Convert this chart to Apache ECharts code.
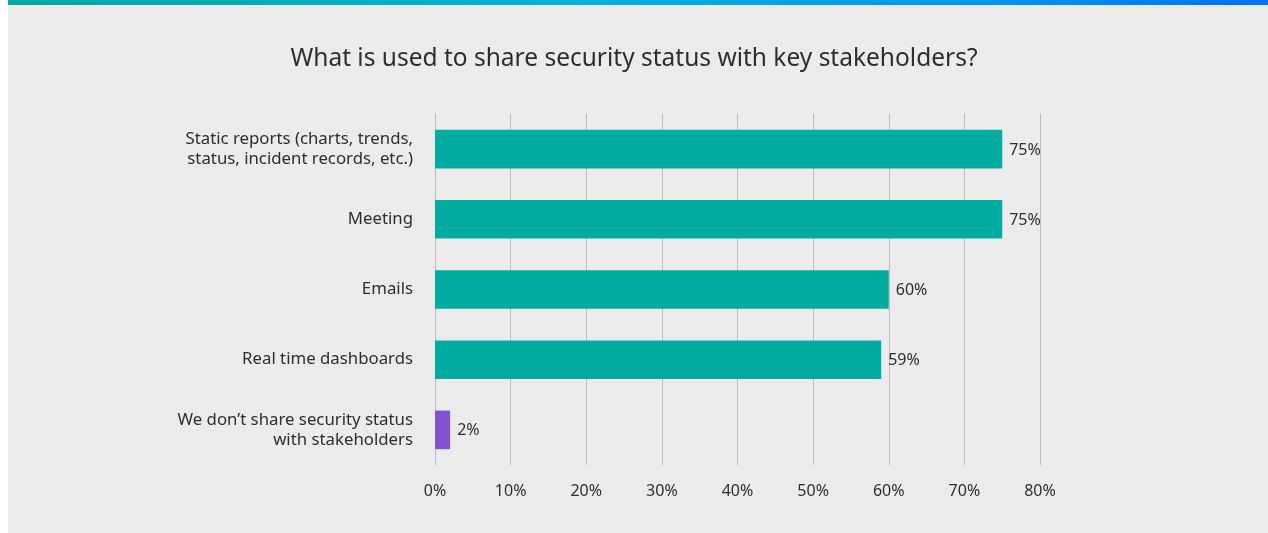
<!DOCTYPE html>
<html>
<head>
<meta charset="utf-8">
<script src="https://cdn.jsdelivr.net/npm/echarts@6/dist/echarts.min.js"></script>
<style>
  html, body { margin: 0; padding: 0; background: #ffffff; }
  #chart { width: 1268px; height: 533px; }
</style>
</head>
<body>
<div id="chart"></div>
<script>
// Share channels, listed top to bottom as drawn
const categories = [
  'Static reports (charts, trends,\nstatus, incident records, etc.)',
  'Meeting',
  'Emails',
  'Real time dashboards',
  'We don\u2019t share security status\nwith stakeholders'
];
const shares = [75, 75, 60, 59, 2];
const barColors = ['#00ab9f', '#00ab9f', '#00ab9f', '#00ab9f', '#8551d3'];
const tickValues = [0, 10, 20, 30, 40, 50, 60, 70, 80];

const FONT = '"Noto Sans", "Open Sans", sans-serif';
const chart = echarts.init(document.getElementById('chart'), null, { renderer: 'canvas' });

chart.setOption({
  backgroundColor: '#ffffff',
  animation: false,
  graphic: [
    {
      type: 'rect', left: 8, top: 0, z: -10,
      shape: { width: 1260, height: 533 },
      style: { fill: '#ebebeb' }
    },
    {
      type: 'rect', left: 8, top: 0, z: -5,
      shape: { width: 1260, height: 5 },
      style: {
        fill: new echarts.graphic.LinearGradient(0, 0, 1, 0, [
          { offset: 0, color: '#00a99d' },
          { offset: 0.45, color: '#00b2dc' },
          { offset: 0.78, color: '#0096ef' },
          { offset: 1, color: '#0070f5' }
        ])
      }
    }
  ],
  title: {
    text: 'What is used to share security status with key stakeholders?',
    left: 'center',
    top: 42,
    textStyle: { fontFamily: FONT, fontSize: 24.5, fontWeight: 'normal', color: '#2e2e2e' }
  },
  grid: { left: 435, right: 228, top: 114, height: 351, containLabel: false },
  xAxis: {
    type: 'value',
    min: tickValues[0],
    max: tickValues[tickValues.length - 1],
    interval: 10,
    axisLine: { show: false },
    axisTick: { show: false },
    splitLine: { show: true, lineStyle: { color: '#bcbcbc', width: 1 } },
    axisLabel: {
      formatter: '{value}%',
      margin: 18,
      fontFamily: FONT, fontSize: 16, color: '#2e2e2e'
    }
  },
  yAxis: {
    type: 'category',
    inverse: true,
    data: categories,
    axisLine: { show: true, lineStyle: { color: '#bcbcbc', width: 1 } },
    axisTick: { show: false },
    axisLabel: {
      margin: 22,
      fontFamily: FONT, fontSize: 16.8, color: '#2e2e2e', lineHeight: 20, align: 'right'
    }
  },
  series: [{
    type: 'bar',
    data: shares.map((v, i) => ({ value: v, itemStyle: { color: barColors[i] } })),
    barWidth: '55%',
    label: {
      show: true,
      position: 'right',
      distance: 7,
      offset: [0, 1],
      formatter: '{c}%',
      fontFamily: FONT, fontSize: 16, color: '#2e2e2e'
    }
  }]
});
</script>
</body>
</html>
